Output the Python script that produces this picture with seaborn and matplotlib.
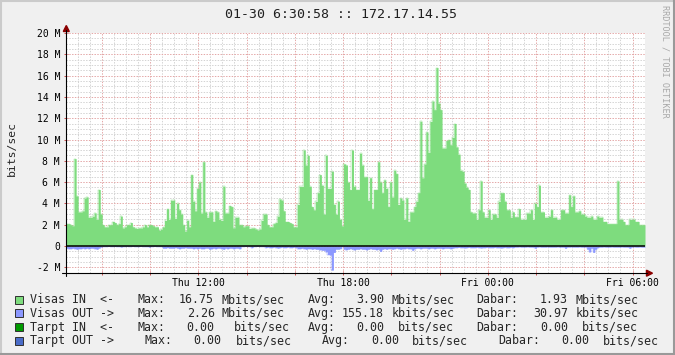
import numpy as np
import pandas as pd
import matplotlib
matplotlib.use("Agg")
import matplotlib.pyplot as plt
import seaborn as sns
from matplotlib.patches import Rectangle, Polygon
from matplotlib.lines import Line2D

# ---------------- data (Mbits/sec, 5-minute steps) ----------------
in_seg_a = [2.1, 2.1, 2.0, 1.9, 8.2, 4.7, 3.2, 3.2, 3.3, 4.5, 4.6, 2.7, 2.7, 2.8, 3.1, 2.5, 5.3, 3.0, 2.0, 1.8]
in_seg_b = [1.8, 2.0, 2.0, 2.3, 2.2, 2.0, 2.1, 2.8, 1.7, 1.8, 2.0, 2.0, 2.2, 1.8, 1.7, 1.65, 1.7, 1.7, 1.8, 2.0,
            1.8, 2.0, 2.0, 1.9, 1.8, 1.8, 1.5, 1.6, 1.8, 2.4]
in_seg_c = [3.5, 2.5, 4.3, 4.3, 2.6, 4.0, 3.4, 3.0, 2.0, 1.4, 2.4, 1.8, 6.7, 4.2, 3.3, 5.4, 6.0, 3.1, 7.9, 3.2]
in_seg_d = [2.7, 3.2, 3.2, 2.3, 3.3, 3.2, 2.5, 2.4, 5.6, 3.1, 3.1, 3.8, 3.7, 1.7, 2.7, 2.7, 2.0, 2.0, 1.8, 1.9,
            1.9, 1.65, 1.7, 1.7, 1.6, 1.5, 1.6, 2.4, 3.0, 3.0, 2.0, 1.8, 1.8, 2.1, 2.2, 2.8, 4.4]
in_seg_e = [4.3, 3.3, 2.3, 2.3, 2.2, 2.1, 1.8, 1.8, 3.9, 5.6]
in_seg_f = [5.6, 9.0, 7.6, 8.5, 5.6, 3.7, 3.4, 4.2, 5.0, 6.7,
            5.7, 3.0, 8.5, 5.4, 5.4, 7.0, 3.9, 3.0, 4.2, 2.5,
            1.9, 7.7, 7.6, 6.0, 5.3, 9.0, 5.6, 5.3, 5.3, 8.7,
            7.6, 6.5, 6.5, 4.3, 6.4, 3.5, 5.3, 5.3, 7.9, 6.0,
            5.0, 6.2, 5.4, 3.7, 6.0, 4.6, 7.1, 6.8, 3.9, 4.5,
            4.3, 2.5, 4.5, 2.3, 3.2, 3.2, 3.7, 4.2, 5.0, 11.7]
in_seg_g = [6.4, 7.7, 10.7, 8.8, 11.7, 13.6, 12.8, 16.75, 13.4, 12.8, 9.2, 9.2, 9.9, 10.0, 9.5]
in_seg_h = [10.2, 11.5, 9.3, 8.6, 7.1, 7.0, 5.9, 5.5, 5.3, 3.2,
            3.1, 3.1, 2.5, 3.4, 6.1, 3.2, 2.7, 2.7, 3.4, 2.5,
            3.0, 3.0, 2.7, 4.2, 5.0, 5.0, 4.2, 3.4, 3.4, 2.7,
            3.2, 2.75, 2.75, 3.5, 2.5, 2.5, 2.5, 3.1, 3.1, 3.4,
            2.5, 4.0, 3.7, 5.7, 3.2, 3.2, 2.7, 2.7, 2.8, 3.4,
            2.7, 2.7, 2.5, 2.5, 3.4, 3.4, 3.1, 3.1, 4.8, 3.7,
            4.7, 3.2, 3.2, 3.3, 3.0, 3.0, 2.8, 2.7, 2.7, 2.8,
            2.5, 2.5, 2.8, 2.7, 2.7, 2.3, 2.3, 2.1, 2.1, 2.1,
            2.1, 2.1, 6.1, 2.5, 2.5, 2.3, 2.0, 2.0, 2.5, 2.5,
            2.5, 2.3, 2.3, 2.0, 2.0, 2.0]
visas_in = in_seg_a + in_seg_b + in_seg_c + in_seg_d + in_seg_e + in_seg_f + in_seg_g + in_seg_h

out_segs = [
    [0.2, 0.25, 0.25, 0.2, 0.25, 0.3, 0.25, 0.25, 0.2, 0.25, 0.2, 0.25, 0.2, 0.2, 0.25, 0.3, 0.2],
    [0.1, 0.05, 0.05, 0.05, 0.04, 0.05, 0.05, 0.04, 0.05, 0.05, 0.1, 0.05, 0.05, 0.04, 0.05, 0.05, 0.04, 0.05,
     0.05, 0.05, 0.04, 0.05, 0.05, 0.05, 0.1, 0.05, 0.05, 0.04, 0.05, 0.05, 0.05],
    [0.2, 0.2, 0.15, 0.2, 0.2, 0.2, 0.15, 0.2, 0.25, 0.2, 0.2, 0.15, 0.2, 0.2],
    [0.2, 0.25, 0.2, 0.25, 0.2, 0.25, 0.25, 0.2, 0.2, 0.3, 0.25, 0.2, 0.25, 0.2, 0.2, 0.25, 0.3, 0.2, 0.25,
     0.2, 0.2, 0.25, 0.2, 0.2, 0.25],
    [0.05, 0.05, 0.04, 0.05, 0.05, 0.15, 0.05, 0.05, 0.04, 0.05, 0.05, 0.05],
    [0.15, 0.1, 0.15, 0.15, 0.1, 0.15, 0.2, 0.15, 0.1, 0.15, 0.15, 0.1, 0.15, 0.15, 0.1, 0.15],
    [0.25, 0.25, 0.2, 0.25, 0.3, 0.25, 0.25, 0.3, 0.25, 0.3, 0.3, 0.35],
    [0.4, 0.4, 0.55, 0.8, 0.85, 2.26, 0.6],
    [0.3, 0.3, 0.25, 0.05],
    [0.3, 0.35, 0.3, 0.25, 0.3, 0.35, 0.3, 0.3, 0.25, 0.3, 0.3, 0.35, 0.3, 0.25, 0.3, 0.3, 0.35, 0.3, 0.5,
     0.3, 0.25, 0.3],
    [0.25, 0.25, 0.3, 0.25, 0.2, 0.25, 0.3, 0.25, 0.25, 0.2, 0.25, 0.25, 0.4, 0.25],
    [0.2, 0.2, 0.25, 0.2, 0.2, 0.2, 0.25, 0.2, 0.2, 0.25, 0.2, 0.2, 0.2, 0.25, 0.2, 0.2, 0.2, 0.25, 0.2],
    [0.15, 0.15, 0.12, 0.15, 0.15, 0.18, 0.15, 0.12, 0.15, 0.15,
     0.15, 0.12, 0.15, 0.18, 0.15, 0.15, 0.12, 0.15, 0.15, 0.15,
     0.12, 0.15, 0.15, 0.18, 0.15, 0.12, 0.15, 0.15, 0.12, 0.15],
    [0.1, 0.1, 0.08, 0.1, 0.1, 0.1, 0.08, 0.1, 0.1, 0.1,
     0.2, 0.1, 0.08, 0.1, 0.1, 0.1, 0.08, 0.1, 0.1, 0.1,
     0.1, 0.08, 0.1, 0.1, 0.1, 0.2, 0.1, 0.1, 0.08, 0.1,
     0.1, 0.1, 0.08, 0.1, 0.1, 0.1],
    [0.3, 0.55, 0.2, 0.6, 0.3, 0.15],
    [0.1, 0.1, 0.08, 0.1, 0.1, 0.1, 0.08, 0.1, 0.1, 0.1,
     0.1, 0.08, 0.1, 0.1, 0.1, 0.2, 0.1, 0.08, 0.1, 0.1,
     0.08, 0.1, 0.1],
]
visas_out = [v for seg in out_segs for v in seg]
assert len(visas_in) == 288 and len(visas_out) == 288, (len(visas_in), len(visas_out))

title = "01-30 6:30:58 :: 172.17.14.55"
y_label = "bits/sec"
watermark = "RRDTOOL / TOBI OETIKER"
x_label_hours = [12, 18, 24, 30]
x_labels = ["Thu 12:00", "Thu 18:00", "Fri 00:00", "Fri 06:00"]
y_ticks = [-2, 0, 2, 4, 6, 8, 10, 12, 14, 16, 18, 20]
y_tick_labels = ["-2 M", "0", "2 M", "4 M", "6 M", "8 M", "10 M", "12 M", "14 M", "16 M", "18 M", "20 M"]

series_names = ["Visas IN  <-", "Visas OUT ->", "Tarpt IN  <-", "Tarpt OUT ->"]
series_colors = ["#7edc7e", "#8c98ff", "#009a00", "#4a6cc8"]
legend_rows = [
    [("Max:", 137.8), ("16.75", 178.6), ("Mbits/sec", 221.7), ("Avg:", 307.8), ("3.90", 356.4),
     ("Mbits/sec", 391.7), ("Dabar:", 477.0), ("1.93", 540.2), ("Mbits/sec", 575.6)],
    [("Max:", 137.8), ("2.26", 187.3), ("Mbits/sec", 221.7), ("Avg:", 307.8), ("155.18", 342.2),
     ("kbits/sec", 391.7), ("Dabar:", 477.0), ("30.97", 533.8), ("kbits/sec", 575.6)],
    [("Max:", 137.8), ("0.00", 186.4), ("bits/sec", 234.6), ("Avg:", 307.8), ("0.00", 356.4),
     ("bits/sec", 398.2), ("Dabar:", 477.0), ("0.00", 540.2), ("bits/sec", 582.4)],
    [("Max:", 145.1), ("0.00", 193.7), ("bits/sec", 235.9), ("Avg:", 322.0), ("0.00", 371.1),
     ("bits/sec", 412.4), ("Dabar:", 498.5), ("0.00", 561.8), ("bits/sec", 603.5)],
]

# ---------------- layout ----------------
W, H = 675, 355
L, R, T, B = 66, 645, 33, 273
bg = "#f0f0f0"
mono = "DejaVu Sans Mono"

sns.set_theme(style="white")
plt.rcParams["font.family"] = [mono, "DejaVu Sans"]

fig = plt.figure(figsize=(W / 100, H / 100), dpi=100, facecolor=bg)
ax = fig.add_axes([L / W, 1 - B / H, (R - L) / W, (B - T) / H])
ax.set_facecolor("white")

start_h = 6.516
step_h = 5 / 60
n = len(visas_in)
edges = start_h + np.arange(n + 1) * step_h
vin = np.array(visas_in + [visas_in[-1]])
vout = -np.array(visas_out + [visas_out[-1]])
df = pd.DataFrame({"t": edges, "vin": vin, "vout": vout})

# step areas (RRDtool AREA)
ax.fill_between(df["t"], 0, df["vin"], step="post", color=series_colors[0], lw=0, zorder=3)
ax.fill_between(df["t"], 0, df["vout"], step="post", color=series_colors[1], lw=0, zorder=3)
sns.lineplot(data=df, x="t", y="vin", drawstyle="steps-post", color=series_colors[0], lw=0.3,
             ax=ax, zorder=3, estimator=None, sort=False)
sns.lineplot(data=df, x="t", y="vout", drawstyle="steps-post", color=series_colors[1], lw=0.3,
             ax=ax, zorder=3, estimator=None, sort=False)

ymin, ymax = -2.535, 20.0
ax.set_xlim(start_h, start_h + 24)
ax.set_ylim(ymin, ymax)
ax.set_xlabel("")
ax.set_ylabel("")

# grid
minor_c, major_c = "#d4d4d4", "#e4a8a8"
dots = (0, (1.4, 1.4))
for h in np.arange(7.0, start_h + 24, 0.5):
    major = abs(h / 2 - round(h / 2)) < 1e-6
    ax.axvline(h, color=major_c if major else minor_c, lw=0.72, ls=dots, zorder=1)
for v in np.arange(-2.5, 20.01, 0.5):
    major = abs(v / 2 - round(v / 2)) < 1e-6
    ax.axhline(v, color=major_c if major else minor_c, lw=0.72, ls=dots, zorder=1)
ax.axhline(0, color="black", lw=1.1, zorder=4)

for s in ax.spines.values():
    s.set_visible(False)

# ticks
major_x = [h for h in range(8, 31, 2)]
ax.set_xticks(major_x)
ax.set_xticklabels([x_labels[x_label_hours.index(h)] if h in x_label_hours else "" for h in major_x])
ax.set_xticks(np.arange(7.0, start_h + 24, 0.5), minor=True)
ax.set_yticks(y_ticks)
ax.set_yticklabels(y_tick_labels)
ax.set_yticks(np.arange(-2.5, 20.01, 0.5), minor=True)
ax.tick_params(axis="both", which="major", length=3, width=0.7, color="#d05050",
               direction="inout", labelsize=7, labelcolor="black")
ax.tick_params(axis="both", which="minor", length=2, width=0.7, color="#a0a0a0", direction="inout")
ax.tick_params(axis="x", which="major", pad=2.2, bottom=True)
ax.tick_params(axis="y", which="major", pad=2.8, left=True)
for lab in ax.get_xticklabels() + ax.get_yticklabels():
    lab.set_fontfamily(mono)


def fx(x):
    return x / W


def fy(y):
    return 1 - y / H


tf = fig.transFigure
# axis lines and arrows
fig.add_artist(Line2D([fx(L), fx(L)], [fy(276), fy(30)], color="black", lw=0.8, transform=tf))
fig.add_artist(Line2D([fx(62), fx(647)], [fy(B), fy(B)], color="black", lw=0.8, transform=tf))
fig.add_artist(Polygon([(fx(63.3), fy(31.5)), (fx(69.3), fy(31.5)), (fx(66.3), fy(25.5))],
                       closed=True, color="#8b0000", transform=tf))
fig.add_artist(Polygon([(fx(646.5), fy(270.2)), (fx(646.5), fy(276.2)), (fx(652.5), fy(273.2))],
                       closed=True, color="#8b0000", transform=tf))

# texts
fig.text(fx(341), fy(14), title, ha="center", va="center", fontsize=9.5, family=mono, color="#202020")
fig.text(fx(12), fy(149), y_label, ha="center", va="center", rotation=90, fontsize=8.2, family=mono)
fig.text(fx(665), fy(61), watermark, ha="center", va="center", rotation=270, fontsize=6.1,
         family=mono, color="#a8a8a8")

row_y = [299.6, 313.3, 327.3, 340.9]
for name, col, toks, yy in zip(series_names, series_colors, legend_rows, row_y):
    fig.add_artist(Rectangle((fx(15), fy(yy + 4)), 8 / W, 8 / H, facecolor=col,
                             edgecolor="#303030", lw=0.7, transform=tf))
    fig.text(fx(30.2), fy(yy), name, ha="left", va="center", fontsize=8.4, family=mono)
    for txt, xx in toks:
        fig.text(fx(xx - 0.3), fy(yy), txt, ha="left", va="center", fontsize=8.4, family=mono)

# 3D border
fig.add_artist(Line2D([fx(0.5), fx(0.5)], [fy(0), fy(355)], color="#cbcbcb", lw=1.5, transform=tf))
fig.add_artist(Line2D([fx(0), fx(675)], [fy(0.5), fy(0.5)], color="#cbcbcb", lw=1.5, transform=tf))
fig.add_artist(Line2D([fx(674), fx(674)], [fy(0), fy(355)], color="#999999", lw=1.5, transform=tf))
fig.add_artist(Line2D([fx(0), fx(675)], [fy(354), fy(354)], color="#999999", lw=1.5, transform=tf))

fig.savefig("out.png", dpi=100, facecolor=bg)
